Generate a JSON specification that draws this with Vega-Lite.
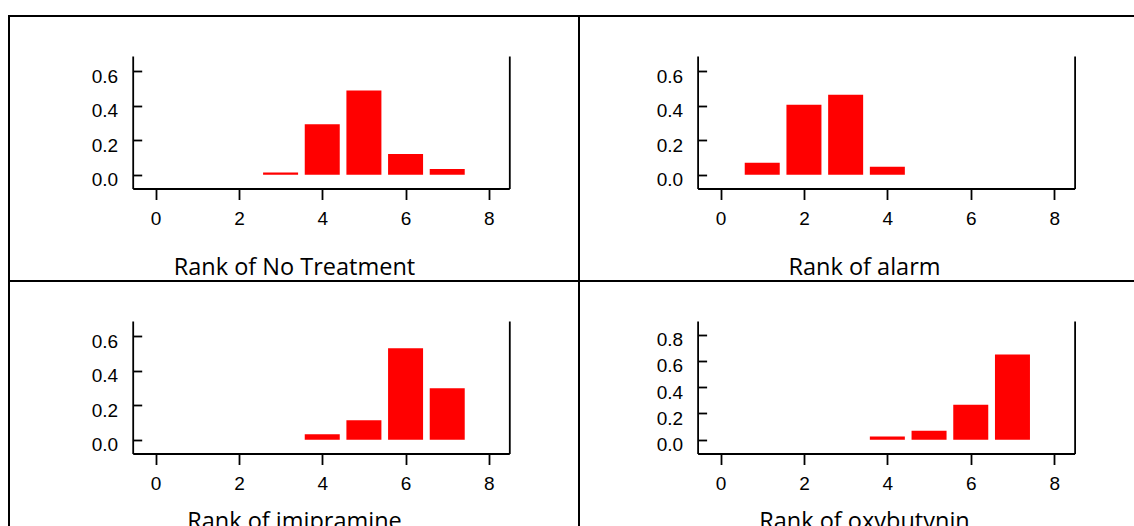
{
  "$schema": "https://vega.github.io/schema/vega-lite/v6.json",
  "padding": {"left": 8, "top": 3, "right": 0, "bottom": 0},
  "background": "white",
  "data": {"values": [
    {"treatment": "No Treatment", "rank": 3, "prob": 0.014},
    {"treatment": "No Treatment", "rank": 4, "prob": 0.292},
    {"treatment": "No Treatment", "rank": 5, "prob": 0.488},
    {"treatment": "No Treatment", "rank": 6, "prob": 0.12},
    {"treatment": "No Treatment", "rank": 7, "prob": 0.034},
    {"treatment": "alarm", "rank": 1, "prob": 0.07},
    {"treatment": "alarm", "rank": 2, "prob": 0.405},
    {"treatment": "alarm", "rank": 3, "prob": 0.463},
    {"treatment": "alarm", "rank": 4, "prob": 0.047},
    {"treatment": "imipramine", "rank": 4, "prob": 0.033},
    {"treatment": "imipramine", "rank": 5, "prob": 0.113},
    {"treatment": "imipramine", "rank": 6, "prob": 0.529},
    {"treatment": "imipramine", "rank": 7, "prob": 0.298},
    {"treatment": "oxybutynin", "rank": 4, "prob": 0.025},
    {"treatment": "oxybutynin", "rank": 5, "prob": 0.069},
    {"treatment": "oxybutynin", "rank": 6, "prob": 0.267},
    {"treatment": "oxybutynin", "rank": 7, "prob": 0.649}
  ]},
  "columns": 2,
  "spacing": 0,
  "bounds": "flush",
  "concat": [
    {
      "width": 570, "height": 265,
      "transform": [{"filter": "datum.treatment === 'No Treatment'"}],
      "layer": [
        {
          "mark": {"type": "bar", "color": "#ff0000", "width": 35},
          "encoding": {
            "x": {"field": "rank", "type": "quantitative",
              "scale": {"domain": [-0.43, 8.37], "range": [123.7, 500.3], "nice": false, "zero": false},
              "axis": {"orient": "bottom", "offset": -92.5, "values": [0, 2, 4, 6, 8], "format": "d", "title": "Rank of No Treatment", "titleX": 285, "titleY": 85.5}},
            "y": {"field": "prob", "type": "quantitative",
              "scale": {"domain": [-0.079, 0.687], "range": [172.5, 40], "nice": false, "zero": false},
              "axis": {"orient": "left", "offset": -123.7, "values": [0, 0.2, 0.4, 0.6], "format": ".1f", "title": null, "tickSize": -9, "labelPadding": 24, "labelOffset": 5}},
            "y2": {"datum": 0}
          }
        },
        {
          "mark": {"type": "bar", "opacity": 0},
          "encoding": {
            "y": {"field": "prob", "type": "quantitative",
              "axis": {"orient": "right", "offset": -69.7, "ticks": false, "labels": false, "title": null}}
          }
        }
      ],
      "resolve": {"axis": {"y": "independent"}}
    },
    {
      "width": 570, "height": 265,
      "transform": [{"filter": "datum.treatment === 'alarm'"}],
      "layer": [
        {
          "mark": {"type": "bar", "color": "#ff0000", "width": 35},
          "encoding": {
            "x": {"field": "rank", "type": "quantitative",
              "scale": {"domain": [-0.43, 8.37], "range": [118.6, 495.6], "nice": false, "zero": false},
              "axis": {"orient": "bottom", "offset": -92.5, "values": [0, 2, 4, 6, 8], "format": "d", "title": "Rank of alarm", "titleX": 285, "titleY": 85.5}},
            "y": {"field": "prob", "type": "quantitative",
              "scale": {"domain": [-0.079, 0.687], "range": [172.5, 40], "nice": false, "zero": false},
              "axis": {"orient": "left", "offset": -118.6, "values": [0, 0.2, 0.4, 0.6], "format": ".1f", "title": null, "tickSize": -9, "labelPadding": 24, "labelOffset": 5}},
            "y2": {"datum": 0}
          }
        },
        {
          "mark": {"type": "bar", "opacity": 0},
          "encoding": {
            "y": {"field": "prob", "type": "quantitative",
              "axis": {"orient": "right", "offset": -74.4, "ticks": false, "labels": false, "title": null}}
          }
        }
      ],
      "resolve": {"axis": {"y": "independent"}}
    },
    {
      "width": 570, "height": 265,
      "transform": [{"filter": "datum.treatment === 'imipramine'"}],
      "layer": [
        {
          "mark": {"type": "bar", "color": "#ff0000", "width": 35},
          "encoding": {
            "x": {"field": "rank", "type": "quantitative",
              "scale": {"domain": [-0.43, 8.37], "range": [123.7, 500.3], "nice": false, "zero": false},
              "axis": {"orient": "bottom", "offset": -92.5, "values": [0, 2, 4, 6, 8], "format": "d", "title": "Rank of imipramine", "titleX": 285, "titleY": 75}},
            "y": {"field": "prob", "type": "quantitative",
              "scale": {"domain": [-0.079, 0.687], "range": [172.5, 40], "nice": false, "zero": false},
              "axis": {"orient": "left", "offset": -123.7, "values": [0, 0.2, 0.4, 0.6], "format": ".1f", "title": null, "tickSize": -9, "labelPadding": 24, "labelOffset": 5}},
            "y2": {"datum": 0}
          }
        },
        {
          "mark": {"type": "bar", "opacity": 0},
          "encoding": {
            "y": {"field": "prob", "type": "quantitative",
              "axis": {"orient": "right", "offset": -69.7, "ticks": false, "labels": false, "title": null}}
          }
        }
      ],
      "resolve": {"axis": {"y": "independent"}}
    },
    {
      "width": 570, "height": 265,
      "transform": [{"filter": "datum.treatment === 'oxybutynin'"}],
      "layer": [
        {
          "mark": {"type": "bar", "color": "#ff0000", "width": 35},
          "encoding": {
            "x": {"field": "rank", "type": "quantitative",
              "scale": {"domain": [-0.43, 8.37], "range": [118.6, 495.6], "nice": false, "zero": false},
              "axis": {"orient": "bottom", "offset": -92.5, "values": [0, 2, 4, 6, 8], "format": "d", "title": "Rank of oxybutynin", "titleX": 285, "titleY": 75}},
            "y": {"field": "prob", "type": "quantitative",
              "scale": {"domain": [-0.105, 0.904], "range": [172.5, 40], "nice": false, "zero": false},
              "axis": {"orient": "left", "offset": -118.6, "values": [0, 0.2, 0.4, 0.6, 0.8], "format": ".1f", "title": null, "tickSize": -9, "labelPadding": 24, "labelOffset": 5}},
            "y2": {"datum": 0}
          }
        },
        {
          "mark": {"type": "bar", "opacity": 0},
          "encoding": {
            "y": {"field": "prob", "type": "quantitative",
              "axis": {"orient": "right", "offset": -74.4, "ticks": false, "labels": false, "title": null}}
          }
        }
      ],
      "resolve": {"axis": {"y": "independent"}}
    }
  ],
  "config": {
    "view": {"stroke": "#000000", "strokeWidth": 2},
    "axis": {
      "grid": false,
      "domainColor": "#000000", "domainWidth": 1.8,
      "tickColor": "#000000", "tickWidth": 1.8,
      "labelFont": "Liberation Sans", "labelFontSize": 19, "labelColor": "#000000",
      "labelFlush": false, "labelOverlap": false, "labelBound": false,
      "titleFont": "Open Sans", "titleFontSize": 23.5, "titleFontWeight": "normal", "titleColor": "#000000",
      "titleBaseline": "alphabetic"
    },
    "axisX": {"tickSize": 11, "labelPadding": 10}
  }
}
